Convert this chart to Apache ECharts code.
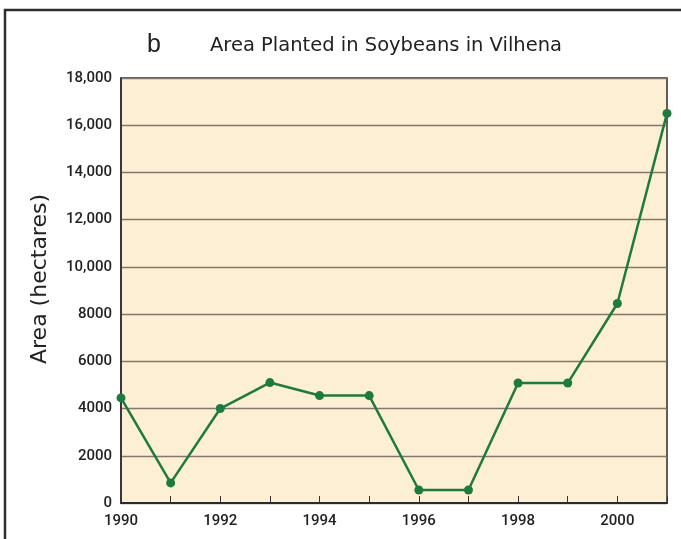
<!DOCTYPE html>
<html>
<head>
<meta charset="utf-8">
<script src="https://cdn.jsdelivr.net/npm/echarts@6/dist/echarts.min.js"></script>
<style>
  html, body { margin: 0; padding: 0; background: #fff; }
  #chart { width: 681px; height: 539px; }
</style>
</head>
<body>
<div id="chart"></div>
<script>
// soybean area
const years = [1990, 1991, 1992, 1993, 1994, 1995, 1996, 1997, 1998, 1999, 2000, 2001];
const area = [4450, 850, 4000, 5100, 4550, 4550, 550, 550, 5080, 5080, 8450, 16500];

const FONT = 'Roboto, "Liberation Sans", Arial, sans-serif';
const WIDE = '"DejaVu Sans", "Liberation Sans", sans-serif';

const chart = echarts.init(document.getElementById('chart'));
chart.setOption({
  backgroundColor: '#ffffff',
  animation: false,
  graphic: [
    { type: 'rect', shape: { x: 5, y: 10, width: 720, height: 580 },
      style: { fill: 'none', stroke: '#2b2f33', lineWidth: 2.5 }, z: -1 },
    { type: 'text', left: 147, top: 33,
      style: { text: 'b', font: '25px "Liberation Sans", sans-serif', fill: '#222' } },
    { type: 'text', left: 210, top: 36,
      style: { text: 'Area Planted in Soybeans in Vilhena', font: '19.5px ' + WIDE, fill: '#222' } },
    // rotated axis title
    { type: 'text', x: 40, y: 279, rotation: Math.PI / 2,
      style: { text: 'Area (hectares)', font: '22px ' + WIDE, fill: '#222',
               align: 'center', verticalAlign: 'middle' } }
  ],
  grid: {
    left: 121, right: 14, top: 78, bottom: 36,
    show: true, backgroundColor: '#fcefd4', borderColor: '#2b2b2b', borderWidth: 1.5
  },
  xAxis: {
    type: 'value', min: 1990, max: 2001, interval: 1,
    axisLine: { show: true, lineStyle: { color: '#2b2b2b', width: 2 } },
    axisTick: { show: true, inside: true, length: 7, lineStyle: { color: '#333', width: 1 } },
    axisLabel: {
      color: '#222', fontFamily: FONT, fontWeight: 500, fontSize: 15, margin: 11,
      formatter: v => (v % 2 === 0 ? String(v) : '')
    },
    splitLine: { show: false }
  },
  yAxis: {
    type: 'value', min: 0, max: 18000, interval: 2000,
    axisLine: { show: true, lineStyle: { color: '#2b2b2b', width: 1.5 } },
    axisTick: { show: false },
    axisLabel: {
      color: '#222', fontFamily: FONT, fontWeight: 500, fontSize: 15, margin: 9,
      formatter: v => (v >= 10000 ? v.toLocaleString('en-US') : String(v))
    },
    splitLine: { show: true, lineStyle: { color: '#85766a', width: 1.3 } }
  },
  series: [{
    type: 'line',
    data: years.map((y, i) => [y, area[i]]),
    symbol: 'circle', symbolSize: 9,
    lineStyle: { color: '#1f7a3f', width: 2.5 },
    itemStyle: { color: '#1f7a3f' },
    clip: false
  }]
});
</script>
</body>
</html>
